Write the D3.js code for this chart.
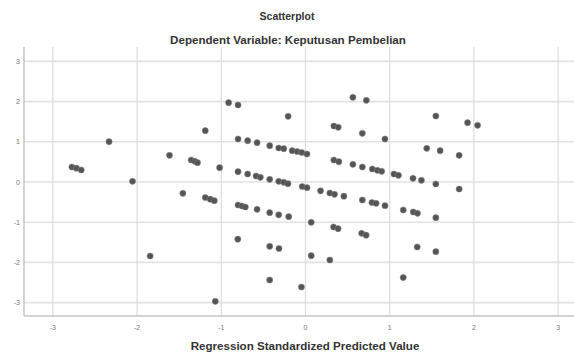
<!DOCTYPE html>
<html>
<head>
<meta charset="utf-8">
<script src="https://cdn.jsdelivr.net/npm/d3@7"></script>
<style>
  html, body { margin: 0; padding: 0; background: #fff; }
  svg { display: block; }
</style>
</head>
<body>
<div id="chart"></div>
<script>
// predicted (x) vs residual (y)
const predX = [
  -0.913, -0.801, -1.190, -2.333, -2.774, -2.720, -2.663, -1.615, -1.357, -1.315,
  -1.282, -1.020, -2.054, -1.456, -1.190, -1.131, -1.083, -0.206,
  -0.801, -0.687, -0.575, -0.425, -0.318, -0.258, -0.158, -0.099, -0.044, 0.018,
  -0.801, -0.687, -0.587, -0.536, -0.425, -0.318, -0.258, -0.208, -0.039, 0.018,
  -0.801, -0.754, -0.714, -0.575, -0.425, -0.318, -0.199,
  -0.804, -0.425, -0.315, -1.845, -0.425, -1.071, -0.048,
  0.563, 0.723, 0.337, 0.389, 0.675, 0.944, 0.337, 0.396, 0.563, 0.675,
  0.794, 0.854, 0.905, 1.051, 1.104, 0.179, 0.289, 0.345, 0.456, 0.675,
  0.789, 0.839, 0.944, 1.161, 0.068, 0.333, 0.387, 0.667, 0.720, 0.068,
  0.289, 1.161, 1.548, 1.925, 2.044, 1.440, 1.599, 1.825, 1.277, 1.377,
  1.548, 1.825, 1.280, 1.330, 1.548, 1.327, 1.548
];
const residY = [
  1.973, 1.915, 1.276, 1.002, 0.373, 0.343, 0.299, 0.664, 0.547, 0.515,
  0.480, 0.356, 0.017, -0.281, -0.386, -0.428, -0.465, 1.634,
  1.070, 1.027, 0.978, 0.903, 0.846, 0.828, 0.779, 0.759, 0.734, 0.697,
  0.256, 0.199, 0.149, 0.117, 0.067, 0.017, -0.007, -0.042, -0.112, -0.142,
  -0.572, -0.597, -0.622, -0.679, -0.764, -0.816, -0.863,
  -1.423, -1.600, -1.654, -1.841, -2.438, -2.968, -2.612,
  2.107, 2.032, 1.393, 1.361, 1.211, 1.070, 0.547, 0.505, 0.440, 0.373,
  0.323, 0.291, 0.266, 0.199, 0.167, -0.219, -0.274, -0.306, -0.353, -0.448,
  -0.510, -0.530, -0.590, -0.697, -1.002, -1.119, -1.162, -1.276, -1.323, -1.833,
  -1.940, -2.376, 1.642, 1.475, 1.410, 0.838, 0.779, 0.664, 0.092, 0.042,
  -0.050, -0.174, -0.746, -0.779, -0.888, -1.617, -1.734
];
const xTicks = [-3, -2, -1, 0, 1, 2, 3];
const yTicks = [3, 2, 1, 0, -1, -2, -3];

const title = "Scatterplot";
const subtitle = "Dependent Variable: Keputusan Pembelian";
const xLabel = "Regression Standardized Predicted Value";

const width = 574, height = 354;
const plot = { left: 24, right: 574, top: 47, bottom: 316 };

const svg = d3.select("#chart").append("svg")
  .attr("width", width)
  .attr("height", height)
  .style("font-family", "'Liberation Sans', Arial, sans-serif");

const x = d3.scaleLinear([-3.343, 3.189], [plot.left, plot.right]);
const y = d3.scaleLinear([-3.333, 3.358], [plot.bottom, plot.top]);

// grid
svg.append("g").selectAll("line.h")
  .data(yTicks)
  .join("line")
  .attr("x1", plot.left).attr("x2", plot.right)
  .attr("y1", d => y(d)).attr("y2", d => y(d))
  .attr("stroke", "#e2e2e2").attr("stroke-width", 1.6);

svg.append("g").selectAll("line.v")
  .data(xTicks)
  .join("line")
  .attr("x1", d => x(d)).attr("x2", d => x(d))
  .attr("y1", plot.top).attr("y2", plot.bottom)
  .attr("stroke", "#dcdcdc").attr("stroke-width", 1.2);

// axes lines
svg.append("line")
  .attr("x1", plot.left).attr("x2", plot.left)
  .attr("y1", plot.top).attr("y2", plot.bottom)
  .attr("stroke", "#b5b5b5").attr("stroke-width", 1.2);
svg.append("line")
  .attr("x1", plot.left).attr("x2", plot.right)
  .attr("y1", plot.bottom).attr("y2", plot.bottom)
  .attr("stroke", "#c4c4c4").attr("stroke-width", 1.4);

// tick labels
svg.append("g").selectAll("text")
  .data(yTicks)
  .join("text")
  .attr("x", 20).attr("y", d => y(d) + 2.5)
  .attr("text-anchor", "end")
  .attr("font-size", 7).attr("fill", "#777")
  .text(d => d);

svg.append("g").selectAll("text")
  .data(xTicks)
  .join("text")
  .attr("x", d => x(d)).attr("y", 330)
  .attr("text-anchor", "middle")
  .attr("font-size", 7).attr("fill", "#777")
  .text(d => d);

// points
svg.append("g").selectAll("circle")
  .data(d3.range(predX.length))
  .join("circle")
  .attr("cx", i => x(predX[i]))
  .attr("cy", i => y(residY[i]))
  .attr("r", 3.1)
  .attr("fill", "#555")
  .attr("stroke", "#888")
  .attr("stroke-opacity", 0.6)
  .attr("stroke-width", 0.8);

// titles
svg.append("text")
  .attr("x", 287).attr("y", 20)
  .attr("text-anchor", "middle")
  .attr("font-size", 10.5).attr("font-weight", "bold").attr("fill", "#333")
  .text(title);
svg.append("text")
  .attr("x", 288).attr("y", 44)
  .attr("text-anchor", "middle")
  .attr("font-size", 11.6).attr("font-weight", "bold").attr("fill", "#333")
  .text(subtitle);
svg.append("text")
  .attr("x", 305).attr("y", 350)
  .attr("text-anchor", "middle")
  .attr("font-size", 11.6).attr("font-weight", "bold").attr("fill", "#333")
  .text(xLabel);
</script>
</body>
</html>
